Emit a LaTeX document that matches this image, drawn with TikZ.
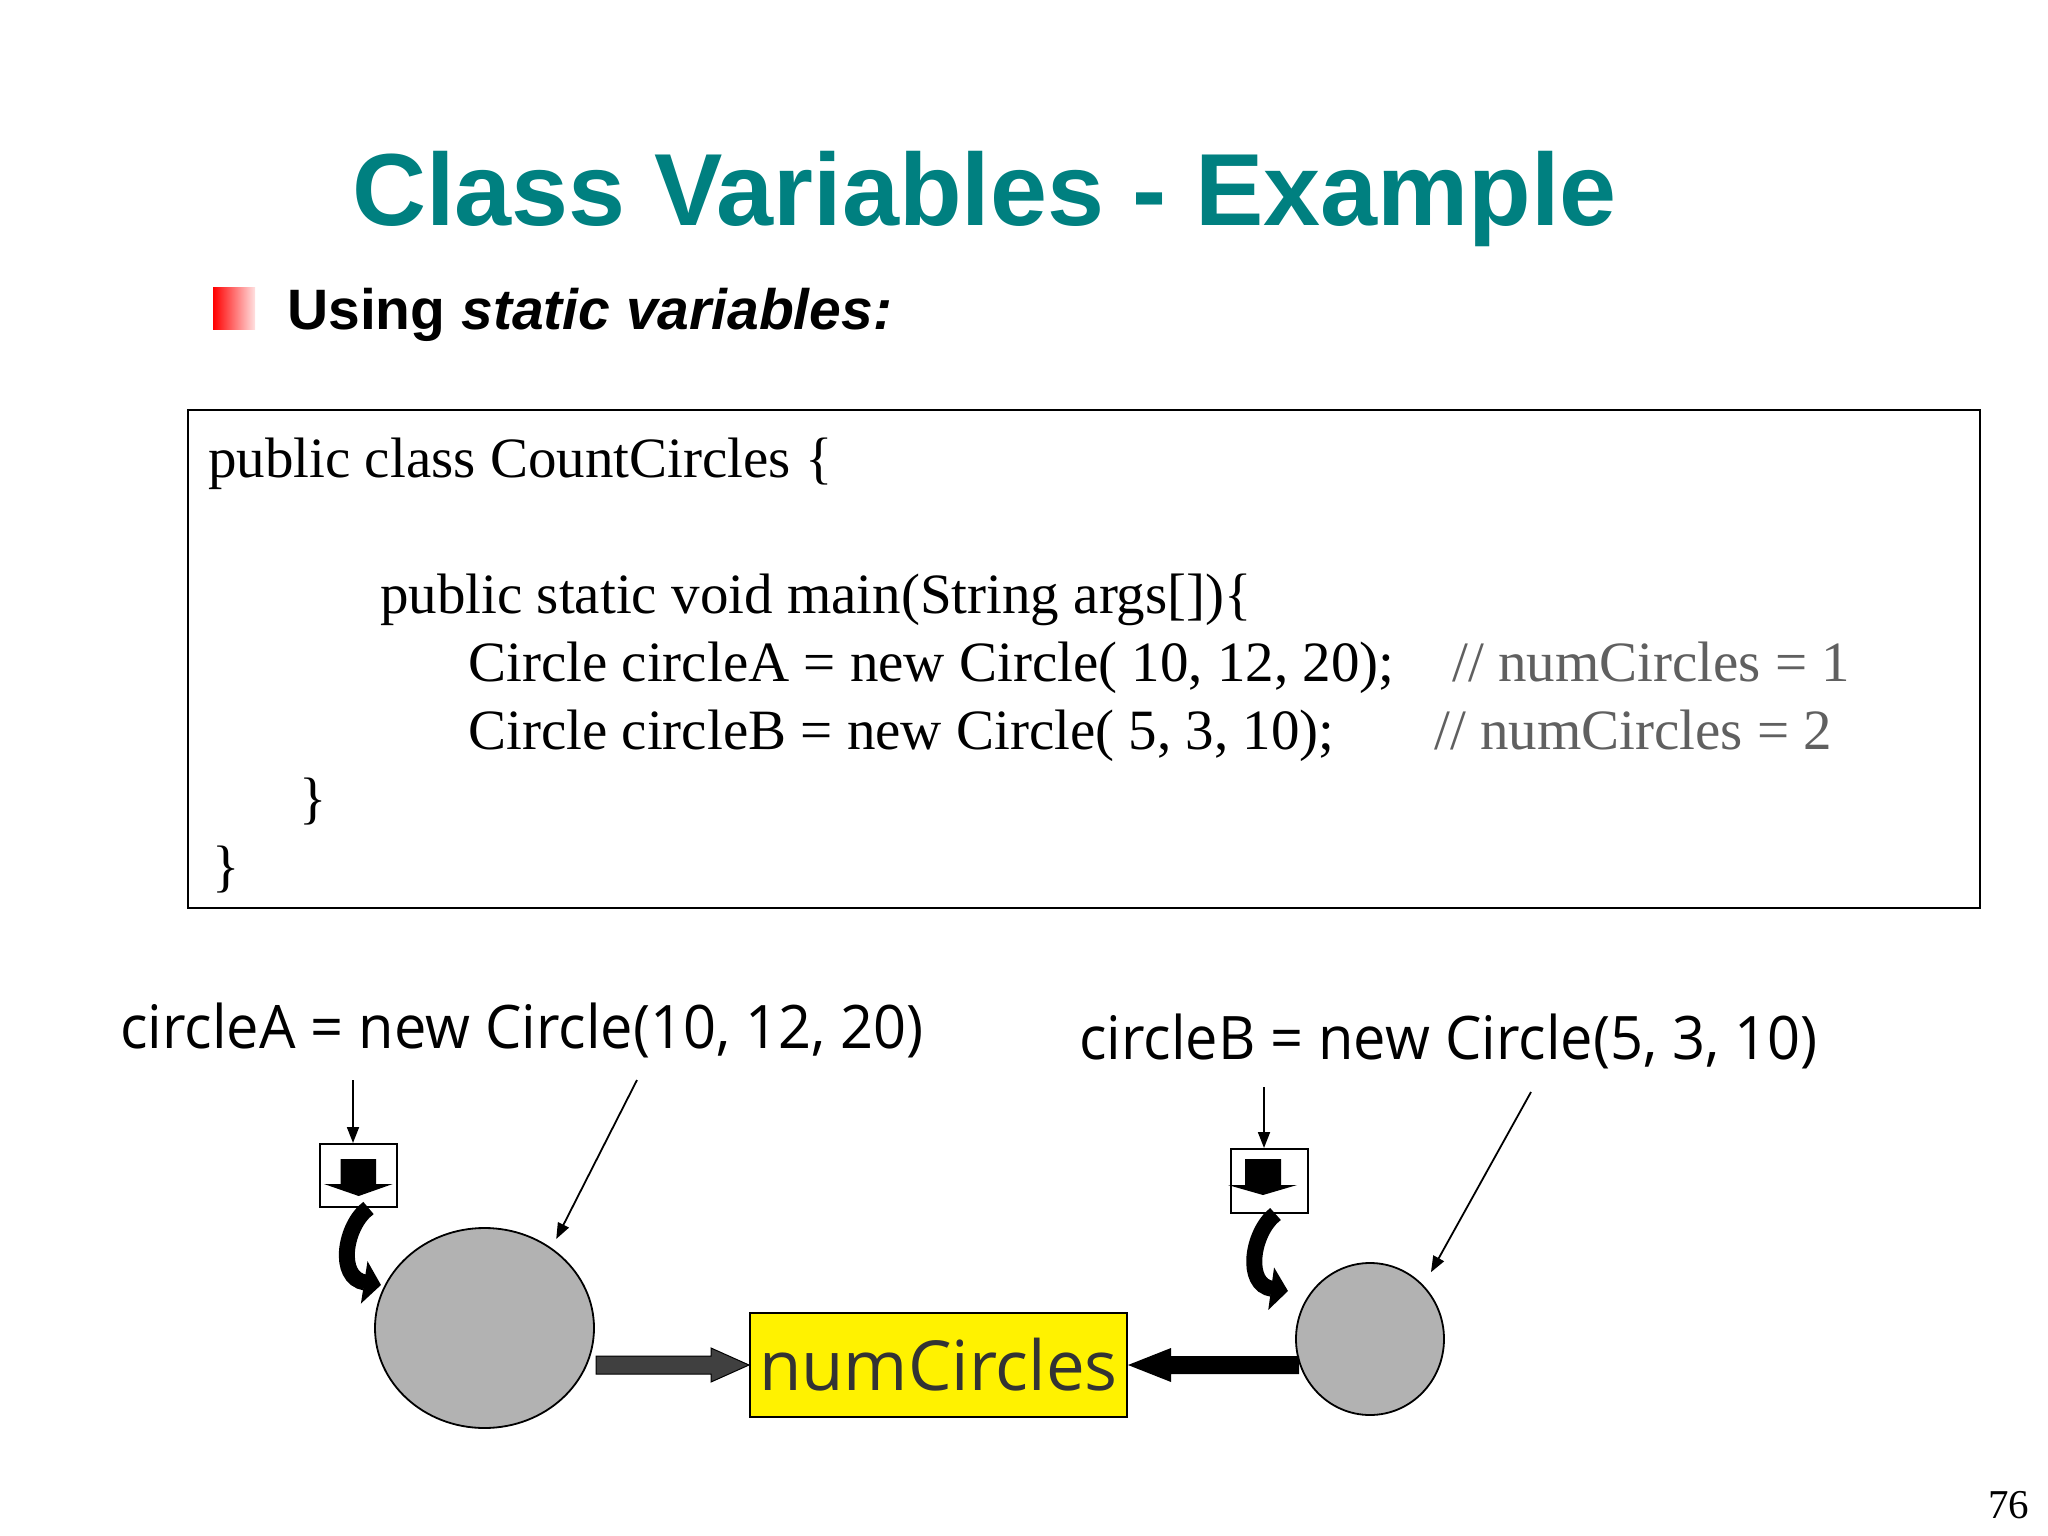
\documentclass[tikz,border=0pt]{standalone}
\usepackage{fontspec}
\setmainfont{Liberation Serif}
\newfontfamily\arialfam{Liberation Sans}
\newfontfamily\labelfam[FakeStretch=0.962]{Open Sans}
\newfontfamily\numfam{Open Sans}
\usetikzlibrary{arrows.meta,shapes.geometric,calc}
\definecolor{titleteal}{RGB}{0,128,128}
\definecolor{commentgray}{RGB}{96,96,96}
\definecolor{ballgray}{RGB}{178,178,178}
\definecolor{numtext}{RGB}{51,51,51}
\definecolor{arrowgray}{RGB}{64,64,64}
\begin{document}
\begin{tikzpicture}[x=1pt,y=-1pt,
  codeline/.style={anchor=base west, inner sep=0pt, font={\fontsize{57}{57}\selectfont}},
  comment/.style={codeline, text=commentgray},
  lbltext/.style={anchor=base west, inner sep=0pt, font={\labelfam\fontsize{60}{60}\selectfont}},
  smallbox/.style={draw, line width=2pt, minimum width=77pt, minimum height=63pt, inner sep=0pt},
  thinarrow/.style={line width=1.8pt, -{Triangle[length=16pt,width=12pt]}},
  curvearrow/.style={line width=16pt, -{Triangle[length=17pt,width=42pt]}},
  ball/.style={ellipse, draw, line width=1.8pt, fill=ballgray, inner sep=0pt},
  blockarrow/.style={line width=1pt, line join=miter}
]
\useasboundingbox (0,0) rectangle (2048,1536);
\fill[white] (0,0) rectangle (2048,1536);

% title and bullet
\node[anchor=base west, inner sep=0pt, text=titleteal,
      font={\arialfam\bfseries\fontsize{102.5}{102.5}\selectfont}] (title) at (352,225) {Class Variables - Example};
\node[inner sep=0pt, minimum width=42pt, minimum height=42pt, left color=red, right color=red!12] (bullet) at (234,308) {};
\node[anchor=base west, inner sep=0pt, font={\arialfam\bfseries\fontsize{57}{57}\selectfont}] (sub) at (287,329) {Using \textit{static variables:}};

% code box
\node[draw, line width=2pt, minimum width=1792pt, minimum height=498pt, inner sep=0pt] (codebox) at (1084,659) {};
\node[codeline] (c1) at (208,477) {public class CountCircles \{};
\node[codeline] (c3) at (380,613) {public static void main(String args[])\{};
\node[codeline] (c4) at (468,681) {Circle circleA = new Circle( 10, 12, 20);};
\node[comment] (m4) at (1452,681) {// numCircles = 1};
\node[codeline] (c5) at (468,749) {Circle circleB = new Circle( 5, 3, 10);};
\node[comment] (m5) at (1434,749) {// numCircles = 2};
\node[codeline] (c6) at (299,817) {\}};
\node[codeline] (c7) at (212,885) {\}};

% labels
\node[lbltext] (labA) at (120,1048) {circleA = new Circle(10, 12, 20)};
\node[lbltext] (labB) at (1079,1059) {circleB = new Circle(5, 3, 10)};

% objects
\node[ball, minimum width=219pt, minimum height=200pt] (circA) at (484.5,1328) {};
\node[ball, minimum width=148pt, minimum height=152pt] (circB) at (1370,1339) {};
\node[draw, line width=2pt, fill=yellow, minimum width=377pt, minimum height=104pt, inner sep=0pt,
      text=numtext, font={\numfam\fontsize{69}{69}\selectfont}] (num) at (938.5,1365) {numCircles};

% small boxes
\node[smallbox] (boxA) at (358.5,1175.5) {};
\node[smallbox, minimum height=64pt] (boxB) at (1269.5,1181) {};
\fill (340.7,1159) -- (376,1159) -- (376,1184) -- (392.7,1184) -- (358.7,1196) -- (324,1184) -- (340.7,1184) -- cycle;
\fill (1245,1159) -- (1281,1159) -- (1281,1185) -- (1297,1185) -- (1263,1195) -- (1228,1185) -- (1245,1185) -- cycle;

% thin arrows
\coordinate (vA) at (353,1080);
\coordinate (vB) at (1264,1087);
\draw[thinarrow] (vA) -- (vA |- boxA.north);
\draw[thinarrow] (vB) -- (vB |- boxB.north);
\coordinate (sA) at (637,1080);
\coordinate (sB) at (1531,1092);
\draw[thinarrow, shorten >=10pt] (sA) -- (circA.50);
\draw[thinarrow, shorten >=15pt] (sB) -- (circB.45);

% curved arrows
\coordinate (cA) at (381,1285);
\coordinate (cB) at (1288,1291);
\draw[curvearrow] ([xshift=10pt]boxA.south) .. controls (345,1225) and (336,1278) .. (cA);
\draw[curvearrow] ([xshift=6pt]boxB.south) .. controls (1252,1232) and (1244,1285) .. (cB);

% block arrows to numCircles
\draw[blockarrow, fill=arrowgray] ($(num.west)+(-153,-9)$) -- ($(num.west)+(-38,-9)$) -- ($(num.west)+(-38,-17)$)
   -- (num.west) -- ($(num.west)+(-38,17)$) -- ($(num.west)+(-38,9)$) -- ($(num.west)+(-153,9)$) -- cycle;
\fill ($(num.east)+(171,-9)$) -- ($(num.east)+(43,-9)$) -- ($(num.east)+(43,-17)$)
   -- (num.east) -- ($(num.east)+(43,17)$) -- ($(num.east)+(43,9)$) -- ($(num.east)+(171,9)$) -- cycle;

% page number
\node[anchor=base west, inner sep=0pt, font={\fontsize{41}{41}\selectfont}] (page) at (1988,1518) {76};
\end{tikzpicture}
\end{document}
